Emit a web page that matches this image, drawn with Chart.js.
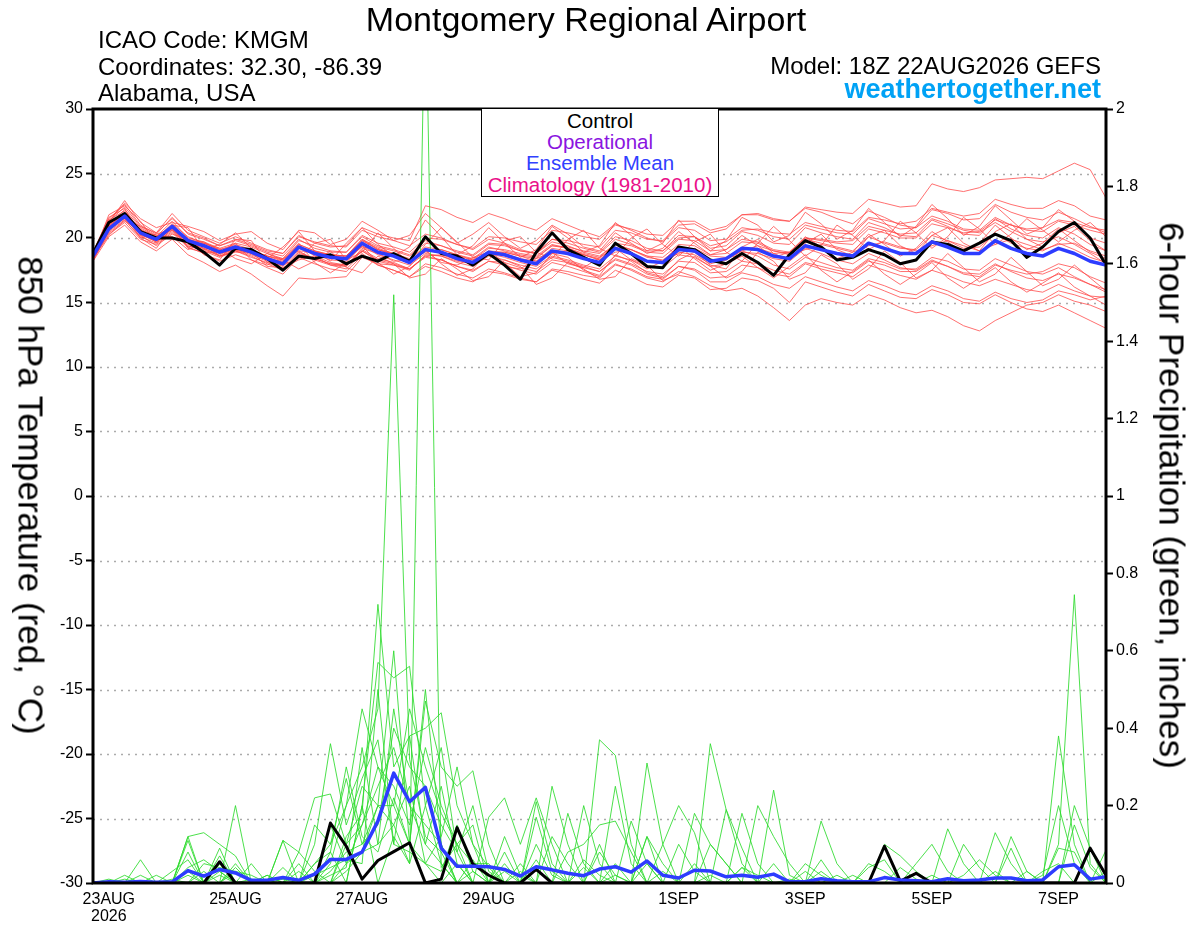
<!DOCTYPE html>
<html>
<head>
<meta charset="utf-8">
<title>Montgomery Regional Airport - GEFS</title>
<script src="https://cdn.jsdelivr.net/npm/chart.js@4.4.1/dist/chart.umd.min.js"></script>
<style>
  body { margin: 0; background: #fff; }
  #wrap { position: relative; width: 1200px; height: 927px; font-family: 'Liberation Sans', Arial, Helvetica, sans-serif; color: #000; }
  #wrap div { position: absolute; white-space: nowrap; line-height: 1; }
  .info { font-size: 24px; }
  .leg { font-size: 20.5px; left: 481px; width: 238px; text-align: center; }
  .vtitle { font-size: 35px; width: 800px; text-align: center; transform: rotate(90deg); }
</style>
</head>
<body>
<div id="wrap">
  <canvas id="chart" width="1200" height="927"></canvas>
  <div style="left:86px;width:1000px;top:2px;text-align:center;font-size:34px">Montgomery Regional Airport</div>
  <div class="info" style="left:98px;top:28px">ICAO Code: KMGM</div>
  <div class="info" style="left:98px;top:55px">Coordinates: 32.30, -86.39</div>
  <div class="info" style="left:98px;top:81px">Alabama, USA</div>
  <div class="info" style="right:99px;top:54px">Model: 18Z 22AUG2026 GEFS</div>
  <div style="right:99px;top:76px;font-size:27px;font-weight:bold;color:#00a2f5">weathertogether.net</div>
  <div style="left:481px;top:108px;width:236px;height:87px;border:1.5px solid #000;background:#fff"></div>
  <div class="leg" style="top:111px">Control</div>
  <div class="leg" style="top:132px;color:#8a14e0">Operational</div>
  <div class="leg" style="top:153px;color:#3040ff">Ensemble Mean</div>
  <div class="leg" style="top:175px;color:#ea1089">Climatology (1981-2010)</div>
  <div class="vtitle" style="left:-369px;top:478px">850 hPa Temperature (red, °C)</div>
  <div class="vtitle" style="left:772px;top:478px">6-hour Precipitation (green, inches)</div>
</div>
<script>
// forecast hours since 18Z 22AUG2026, 6-hourly
const hours = [0,6,12,18,24,30,36,42,48,54,60,66,72,78,84,90,96,102,108,114,120,126,132,138,144,150,156,162,168,174,180,186,192,198,204,210,216,222,228,234,240,246,252,258,264,270,276,282,288,294,300,306,312,318,324,330,336,342,348,354,360,366,372,378,384];

const dayTickHours = [6, 54, 102, 150, 222, 270, 318, 366];
const dayTickLabels = [['23AUG', '2026'], '25AUG', '27AUG', '29AUG', '1SEP', '3SEP', '5SEP', '7SEP'];

// 850 hPa temperature (C)
const tempControl = [18.8,21.2,21.9,20.5,20.0,20.0,19.7,18.9,17.9,19.2, 19.1,18.4,17.5,18.6,18.4,18.7,18.0,18.6,18.2,18.8, 18.2,20.1,18.8,18.6,17.9,18.8,17.9,16.8,18.9,20.4, 19.1,18.5,17.9,19.6,18.8,17.8,17.7,19.3,19.1,18.3, 18.0,18.8,18.1,17.1,18.7,19.8,19.3,18.3,18.5,19.1, 18.7,18.0,18.3,19.7,19.5,19.0,19.6,20.3,19.8,18.5, 19.3,20.5,21.2,20.0,17.9];
const tempMean = [18.6,20.7,21.7,20.4,19.9,20.9,19.8,19.4,18.9,19.3, 18.9,18.4,18.0,19.3,18.8,18.5,18.4,19.6,18.9,18.6, 18.1,19.1,18.9,18.4,18.1,18.9,18.7,18.3,18.0,19.0, 18.8,18.4,18.1,19.2,18.8,18.2,18.1,19.1,19.0,18.2, 18.4,19.2,19.1,18.6,18.4,19.4,19.1,18.8,18.6,19.6, 19.2,18.8,18.8,19.7,19.3,18.8,18.8,19.8,19.2,18.8, 18.6,19.2,18.8,18.2,17.9];
const tempMembers = [
  [18.5,21.0,22.2,20.8,20.1,21.3,20.0,19.7,19.2,19.6, 19.3,18.8,18.4,19.8,19.4,19.0,18.9,20.2,19.6,19.3, 18.9,20.0,19.9,19.5,19.2,20.1,20.0,19.7,19.5,20.6, 20.4,20.1,19.9,21.0,20.7,20.3,20.2,21.3,21.3,20.6, 20.9,21.8,21.8,21.4,21.3,22.4,22.2,22.0,21.9,23.0, 22.7,22.4,22.5,24.2,23.8,23.6,23.9,24.5,24.6,24.7, 24.6,25.2,25.8,25.3,23.1],
  [18.4,20.3,21.2,19.9,19.5,20.4,19.3,18.8,18.2,18.7, 18.3,17.7,17.2,18.5,18.0,17.6,17.4,18.6,17.9,17.5, 17.0,18.0,17.7,17.2,16.9,17.6,17.3,16.9,16.6,17.5, 17.2,16.8,16.5,17.5,17.0,16.4,16.2,17.1,16.9,16.0, 16.1,16.9,16.7,16.1,15.0,16.6,16.2,15.8,15.5,16.4, 15.9,15.4,15.3,16.0,15.6,15.0,14.9,15.6,15.0,14.5, 14.3,14.8,14.2,13.6,13.0],
  [18.7,20.9,21.9,20.6,19.8,20.7,19.6,19.2,18.6,19.0, 18.6,18.0,17.5,18.8,18.4,18.0,17.8,19.0,18.3,18.0, 17.6,18.6,18.3,17.8,17.4,18.2,17.9,17.5,17.2,18.1, 17.8,17.4,17.0,18.0,17.5,16.9,16.6,17.4,17.0,16.3, 15.9,16.1,15.5,14.6,13.6,14.8,15.3,15.0,14.8,15.6, 15.2,14.6,14.2,14.4,13.9,13.2,12.8,13.6,14.2,14.8, 15.0,15.6,15.1,14.8,14.3],
  [18.9,21.5,22.6,21.0,20.3,21.6,20.3,19.9,19.4,19.8, 19.4,18.9,18.6,19.9,19.2,18.9,18.9,20.1,19.4,19.1, 18.7,19.8,19.4,19.0,18.7,19.6,19.5,19.0,18.8,19.9, 19.6,19.2,18.9,20.1,19.8,19.2,19.0,20.2,20.1,19.2, 19.4,20.5,20.2,19.6,19.5,20.8,20.4,20.1,19.9,21.2, 20.8,20.2,20.1,21.4,20.9,20.3,20.2,21.5,20.7,20.2, 20.0,20.8,20.3,19.5,19.0],
  [18.3,20.5,21.4,20.1,19.6,20.5,19.4,19.0,18.5,19.0, 18.5,18.1,17.6,18.9,18.4,18.0,17.9,19.1,18.4,18.1, 17.6,18.5,18.3,17.8,17.5,18.2,18.1,17.7,17.4,18.3, 18.1,17.7,17.4,18.4,18.0,17.4,17.2,18.2,18.1,17.3, 17.4,18.2,18.0,17.5,17.2,18.1,17.8,17.5,17.3,18.2, 17.9,17.4,17.4,18.2,17.8,17.3,17.2,18.0,17.4,16.9, 16.7,17.2,16.9,16.4,16.0],
  [18.6,21.2,22.9,21.2,20.4,21.9,20.6,20.1,19.6,20.1, 19.6,19.1,18.8,20.2,19.6,19.3,19.4,20.8,20.3,20.0, 19.8,22.5,22.2,21.6,21.2,21.9,21.5,21.0,20.6,21.5, 21.0,20.5,20.1,21.1,20.6,20.0,19.7,20.8,20.6,19.8, 19.9,20.8,20.6,20.1,19.9,21.0,20.7,20.4,20.3,21.5, 21.1,20.7,20.8,22.2,21.9,21.4,21.5,22.6,22.0,21.6, 21.4,22.0,21.5,20.9,20.4],
  [18.2,20.1,21.0,19.7,19.0,19.9,18.7,18.1,17.4,17.9, 17.2,16.3,15.5,16.9,16.8,16.9,17.0,18.5,18.0,17.9, 17.5,18.7,18.6,18.2,18.0,18.9,18.8,18.4,18.2,19.2, 19.0,18.7,18.4,19.5,19.1,18.6,18.5,19.5,19.4,18.7, 18.8,19.7,19.6,19.0,18.8,19.9,19.6,19.3,19.0,20.1, 19.6,19.2,19.1,20.2,19.8,19.2,19.3,20.3,19.6,19.2, 19.0,19.6,19.1,18.5,18.1],
  [18.7,21.0,21.8,20.4,19.8,20.9,19.9,19.6,19.1,19.4, 19.0,18.6,18.3,19.5,19.0,18.7,18.6,19.8,19.2,18.8, 18.4,19.3,19.1,18.7,18.4,19.3,19.0,18.7,18.5,19.4, 19.3,19.0,18.8,19.9,19.5,19.0,19.0,20.0,20.1,19.4, 19.7,20.6,20.7,20.4,20.3,21.2,20.9,20.6,20.5,21.6, 21.4,21.1,21.3,22.3,22.0,21.7,21.9,23.0,22.6,22.3, 22.3,22.9,22.5,21.7,21.4],
  [18.5,20.8,21.6,20.2,19.9,20.8,19.7,19.3,18.8,19.1, 18.7,18.2,17.8,19.0,18.3,17.9,17.6,18.8,17.9,17.5, 17.0,17.8,17.4,16.9,16.6,17.4,17.2,16.8,16.6,17.6, 17.4,17.1,16.9,17.9,17.6,17.0,16.8,17.8,17.6,16.9, 17.0,17.9,17.7,17.2,17.0,18.0,17.6,17.3,17.0,17.9, 17.5,17.1,16.8,17.5,17.1,16.6,16.3,16.8,16.4,16.0, 15.8,16.4,15.9,15.5,15.4],
  [18.8,21.3,22.4,20.9,20.4,21.5,20.4,20.0,19.4,19.9, 19.5,19.0,18.8,20.1,19.7,19.4,19.3,20.6,20.1,19.8, 19.4,20.3,20.0,19.5,19.1,19.9,19.6,19.1,18.8,19.7, 19.4,18.9,18.6,19.5,19.1,18.5,18.3,19.2,19.1,18.3, 18.3,19.0,18.6,17.9,17.6,18.5,18.1,17.7,17.5,18.4, 18.1,17.6,17.6,18.5,18.2,17.6,17.5,18.4,17.9,17.4, 17.2,17.7,17.0,16.4,15.8],
  [18.6,20.4,21.3,20.6,20.2,20.6,19.8,19.7,19.0,19.0, 19.0,18.6,18.4,19.0,18.9,18.7,18.4,19.3,19.1,18.8, 18.3,18.9,19.1,18.7,18.3,18.7,18.9,18.6,18.2,18.8, 19.0,18.7,18.3,18.9,19.1,18.6,18.2,18.8,19.2,18.6, 18.5,19.0,19.4,19.0,18.7,19.1,19.5,19.2,18.9,19.4, 19.7,19.3,19.0,19.4,19.8,19.4,19.0,19.5,19.9,19.5, 19.1,19.5,19.6,19.0,18.6],
  [18.6,20.9,22.0,20.7,20.0,21.1,20.1,19.6,19.1,19.5, 19.1,18.6,18.2,19.5,19.0,18.7,18.6,19.9,19.3,19.0, 18.6,19.6,19.4,18.9,18.6,19.5,19.4,19.0,18.8,19.9, 19.8,19.5,19.3,20.6,20.4,19.9,19.8,21.0,21.1,20.4, 20.7,21.8,21.9,21.5,21.3,22.3,22.0,21.5,21.1,22.1, 21.6,21.0,20.8,21.7,21.3,20.7,20.6,21.6,21.0,20.6, 20.5,21.3,21.0,20.6,20.3],
  [18.4,20.6,21.5,20.3,19.7,20.8,19.6,19.2,18.7,19.2, 18.8,18.3,17.9,19.2,18.7,18.3,18.2,19.4,18.7,18.3, 17.9,18.8,18.6,18.1,17.8,18.6,18.3,17.9,17.6,18.5, 18.2,17.8,17.4,18.3,17.9,17.2,16.9,17.8,17.5,16.6, 16.6,17.3,17.0,16.4,16.1,17.0,16.6,16.2,15.9,16.7, 16.3,15.8,15.6,16.3,15.9,15.3,15.1,15.8,15.3,15.0, 15.2,15.9,15.6,15.2,15.5],
  [18.7,21.1,21.9,20.3,19.7,20.6,19.5,19.1,18.6,19.1, 18.9,18.5,18.1,19.4,18.6,18.1,17.9,19.0,18.2,17.9, 17.6,18.6,18.7,18.3,18.1,19.0,18.9,18.6,18.4,19.4, 19.2,18.8,18.5,19.6,19.4,18.9,18.8,19.9,19.8,19.0, 19.1,19.9,19.7,19.1,18.9,20.0,19.8,19.6,19.5,20.7, 20.4,20.0,20.0,21.1,20.8,20.4,20.5,21.4,21.0,20.7, 20.8,21.4,21.2,20.8,20.6],
  [18.5,20.7,21.6,20.4,20.0,20.8,19.9,19.5,18.9,19.3, 18.8,18.3,18.0,19.3,18.9,18.6,18.5,19.8,19.1,18.7, 18.2,19.1,18.8,18.3,18.0,18.8,18.5,18.1,17.8,18.6, 18.3,17.9,17.6,18.6,18.3,17.8,17.7,18.7,18.5,17.8, 18.0,18.9,18.8,18.4,18.2,19.2,18.8,18.3,18.0,18.8, 18.3,17.7,17.5,18.3,17.8,17.2,17.0,17.9,17.5,17.2, 17.4,18.0,17.7,17.0,16.5],
  [18.8,21.4,22.1,20.6,19.9,21.0,19.9,19.4,18.8,19.3, 18.9,18.4,18.1,19.3,18.9,18.7,18.6,19.9,19.1,18.7, 18.2,19.2,18.9,18.6,18.3,19.2,19.1,18.8,18.6,19.5, 19.2,18.7,18.3,19.3,18.9,18.2,18.0,18.9,18.7,18.0, 18.3,19.2,19.2,18.8,18.9,20.0,19.9,19.7,19.8,20.9, 20.6,20.3,20.4,21.5,21.1,20.6,20.4,21.2,20.5,19.9, 19.7,20.1,19.5,18.8,18.0],
  [18.9,21.6,22.3,20.2,19.4,20.3,19.9,18.7,18.3,19.9, 19.8,18.1,17.9,18.4,19.6,19.9,18.3,18.9,20.4,19.2, 18.0,19.5,20.8,19.7,18.5,18.3,19.8,20.1,18.9,18.4, 19.9,20.6,19.2,18.6,20.0,20.7,19.5,18.6,19.7,20.3, 18.9,18.2,19.6,20.9,19.8,18.6,19.4,21.0,20.2,19.1, 19.8,21.3,20.4,19.2,20.1,21.6,20.7,19.5,20.3,21.5, 20.6,19.7,20.6,21.2,20.1],
  [18.3,20.9,21.5,20.9,20.2,20.1,19.1,19.6,19.2,18.4, 18.0,18.8,18.3,17.6,18.2,19.0,17.7,17.3,18.6,18.0, 16.9,17.2,18.4,17.6,16.7,17.0,18.3,17.8,16.4,16.9, 18.1,17.6,16.8,17.0,18.4,17.9,16.7,17.2,18.6,17.8, 16.9,17.4,18.9,18.2,16.8,17.3,18.7,18.0,16.8,17.6, 19.0,18.1,16.9,17.5,18.8,17.7,16.6,17.2,18.5,17.4, 16.3,16.8,17.9,16.9,15.9],
  [18.6,21.8,22.5,21.3,19.6,21.0,20.8,19.1,19.5,20.4, 19.2,18.4,19.3,20.5,19.0,18.2,19.6,20.8,19.5,18.6, 19.3,21.4,20.1,18.7,19.4,20.8,19.6,18.5,19.1,20.9, 20.0,18.9,19.4,21.2,20.2,19.0,19.6,21.4,20.1,19.0, 19.8,21.6,21.0,19.7,20.2,22.0,21.1,19.9,20.6,22.3, 21.2,20.1,20.9,22.6,21.5,20.2,20.9,22.5,21.4,20.3, 20.8,22.2,21.3,20.0,19.6],
  [18.4,20.2,21.4,20.0,20.3,20.7,19.3,19.5,18.6,18.9, 18.9,17.8,17.7,18.3,18.6,17.9,17.8,19.2,18.8,18.2, 18.3,19.0,18.1,17.9,18.5,18.9,17.8,17.6,18.4,18.9, 18.0,17.7,18.5,19.2,18.3,17.6,18.2,19.4,18.4,17.5, 18.0,18.6,17.7,16.9,17.8,18.7,17.5,16.6,17.4,18.3, 17.2,16.4,17.2,18.1,16.9,16.1,16.9,17.7,16.6,15.8, 16.5,17.3,16.2,15.5,14.8],
  [18.9,21.3,22.7,21.5,20.8,21.2,20.9,20.5,19.8,20.3, 20.5,19.6,19.1,20.6,20.4,19.5,19.9,21.3,20.6,19.8, 20.2,21.9,20.8,19.6,20.3,21.2,20.1,19.2,19.8,21.0, 20.3,19.3,19.0,20.4,19.6,18.8,19.2,20.5,19.6,18.7, 19.1,20.2,19.4,18.5,18.9,20.1,19.3,18.4,18.9,20.3, 19.5,18.6,19.2,20.5,19.7,18.9,19.6,21.0,20.0,19.1, 19.6,20.7,19.8,18.9,18.4],
  [18.2,20.6,21.8,20.0,19.2,20.9,19.2,18.9,18.9,19.6, 18.3,17.9,18.4,19.6,18.1,17.3,18.1,19.4,18.1,17.2, 17.8,19.1,18.0,17.1,17.6,19.0,18.1,17.0,17.3,18.8, 18.5,17.5,17.1,18.7,18.2,17.3,17.0,18.3,18.9,17.9, 17.6,19.3,19.9,18.8,18.3,19.6,20.3,19.1,18.6,20.1, 20.6,19.4,18.8,20.2,20.8,19.6,19.0,20.5,21.1,19.9, 19.3,20.4,20.9,19.8,19.0]
];

// 6-hour precipitation (inches)
const precipControl = [0,0,0,0,0, 0,0,0,0.055,0, 0,0,0,0,0, 0.155,0.095,0.01,0.058,0.081, 0.104,0,0.01,0.143,0.049, 0.02,0,0,0.035,0, 0,0,0,0,0, 0,0,0,0,0, 0,0,0,0,0, 0,0,0,0,0, 0.095,0.005,0.025,0,0, 0,0,0,0,0, 0,0,0,0.09,0.02];
const precipMean = [0,0.003,0.002,0.004,0.002, 0.003,0.032,0.018,0.035,0.026, 0.007,0.007,0.014,0.007,0.023, 0.061,0.061,0.08,0.16,0.284, 0.21,0.247,0.09,0.043,0.043, 0.042,0.035,0.018,0.042,0.034, 0.025,0.019,0.036,0.042,0.028, 0.057,0.02,0.013,0.033,0.031, 0.016,0.02,0.015,0.023,0.003, 0.003,0.011,0.006,0.003,0.003, 0.014,0.008,0.006,0.003,0.011, 0.006,0.008,0.013,0.013,0.006, 0.008,0.042,0.047,0.01,0.016];
const precipMembers = [
  [0,0,0,0,0, 0,0,0,0.03,0, 0,0,0,0,0, 0.08,0,0.2,0,0.12, 0.05,2.37,0.04,0.1,0, 0,0.05,0,0,0, 0,0,0,0.05,0, 0,0,0,0,0.02, 0,0,0,0,0, 0,0,0,0,0, 0,0,0,0,0, 0,0,0,0,0, 0,0,0,0,0],
  [0,0,0,0,0, 0,0,0,0,0, 0,0,0,0,0.05, 0.1,0.2,0.3,0.45,1.52, 0.32,0.12,0.08,0,0.03, 0,0,0,0.06,0, 0,0,0.1,0,0, 0,0,0,0,0, 0,0.04,0,0,0, 0,0,0,0,0, 0,0,0,0,0, 0,0,0,0,0, 0,0,0,0,0],
  [0,0,0,0,0, 0,0.12,0,0,0.04, 0,0,0,0,0, 0,0.12,0.18,0.72,0.3, 0.38,0.1,0.05,0,0, 0,0,0,0,0.25, 0.1,0,0,0,0, 0.12,0,0,0,0, 0,0,0,0,0, 0,0,0,0,0, 0,0,0,0,0, 0,0,0.03,0,0, 0,0.38,0.1,0,0],
  [0,0,0,0,0, 0,0,0,0,0.2, 0,0,0,0,0, 0,0,0.2,0.57,0.53, 0.56,0.2,0.05,0,0, 0,0,0,0,0, 0,0,0,0,0, 0,0,0,0,0, 0,0,0,0,0, 0,0,0,0,0, 0,0,0,0,0, 0,0,0,0,0, 0,0.1,0.745,0.05,0],
  [0,0,0,0,0, 0,0,0,0,0, 0,0,0.11,0,0, 0.05,0.2,0.45,0.3,0.2, 0.1,0.47,0.3,0.25,0.29, 0.1,0,0,0,0, 0,0,0.37,0.33,0.1, 0,0,0,0,0, 0,0,0,0,0, 0,0,0,0,0, 0,0,0,0,0, 0,0,0,0,0, 0,0,0,0,0],
  [0,0,0,0,0, 0,0.11,0,0,0, 0,0,0,0,0.1, 0.36,0.15,0.27,0.37,0.1, 0.38,0.4,0.44,0.2,0.1, 0,0,0,0,0, 0,0,0,0,0, 0,0,0,0,0.36, 0.19,0.05,0,0,0, 0,0,0,0,0, 0,0,0,0,0, 0,0,0,0,0, 0,0,0,0,0],
  [0,0,0,0,0, 0,0,0,0,0, 0,0,0,0.08,0.22, 0.23,0.1,0.15,0.25,0.35, 0.2,0.15,0.1,0,0, 0.17,0.22,0.1,0.22,0.1, 0,0,0,0,0, 0.31,0.1,0,0,0, 0,0,0,0,0, 0,0.16,0.05,0,0, 0,0,0,0,0, 0,0,0,0,0, 0,0,0,0,0],
  [0,0,0,0,0, 0,0.12,0.13,0.1,0.07, 0,0,0,0,0.15, 0.1,0.27,0.1,0.2,0.15, 0.25,0.05,0,0.05,0, 0,0,0,0.21,0.05, 0,0.2,0.05,0,0, 0,0,0,0,0, 0,0,0,0.24,0.02, 0,0,0,0,0, 0,0,0,0,0, 0,0,0,0.09,0, 0,0,0,0,0],
  [0,0,0,0.06,0, 0,0.08,0,0.09,0, 0,0,0.04,0,0, 0,0.05,0.15,0.3,0.25, 0.15,0.35,0.2,0.1,0.15, 0,0,0.05,0,0, 0.18,0.05,0,0.25,0.05, 0,0,0,0.18,0.1, 0.05,0,0,0,0, 0,0,0,0,0, 0,0,0,0,0.14, 0.05,0,0,0,0, 0,0,0.2,0.09,0],
  [0,0,0.02,0,0, 0.03,0.06,0,0.07,0, 0,0.02,0,0.05,0, 0.03,0.08,0.1,0.15,0.4, 0.3,0.25,0.15,0.08,0, 0,0.03,0,0.17,0.03, 0,0,0,0,0.16, 0.05,0,0,0,0, 0,0,0.2,0.12,0.05, 0,0,0,0,0, 0.1,0.07,0.03,0,0, 0,0,0.13,0.05,0, 0,0.09,0.08,0,0.085],
  [0,0,0,0,0, 0,0,0.05,0.04,0.03, 0,0,0.11,0.08,0.03, 0,0.1,0.25,0.2,0.2, 0.45,0.3,0.18,0.1,0.05, 0.05,0,0,0,0, 0.08,0.1,0.15,0.16,0.08, 0,0.1,0.2,0.13,0, 0,0.18,0.05,0,0, 0,0.06,0,0,0.04, 0.06,0,0,0.02,0, 0,0,0,0,0, 0.03,0.05,0,0,0],
  [0,0,0,0,0.02, 0,0.03,0,0.05,0, 0.05,0,0,0.03,0, 0.15,0.05,0.08,0.1,0.45, 0.2,0.1,0.25,0.05,0, 0,0,0.03,0,0.12, 0.05,0,0,0,0, 0.12,0.05,0,0,0.1, 0.05,0,0,0.05,0, 0.03,0,0,0.02,0, 0,0,0,0,0, 0.1,0.04,0,0,0.03, 0,0,0.15,0.04,0],
  [0,0,0,0,0, 0,0,0,0,0.03, 0.02,0,0,0,0.05, 0.08,0.3,0.12,0.08,0.22, 0.1,0.5,0.1,0,0.06, 0,0.08,0,0,0, 0,0.04,0,0,0, 0,0,0,0.05,0, 0.19,0.09,0,0,0, 0,0,0.02,0,0, 0,0,0.05,0.1,0.03, 0,0,0,0,0, 0,0,0,0,0],
  [0,0.01,0,0.02,0, 0.01,0,0.03,0,0.05, 0,0.02,0,0,0.02, 0.04,0.06,0.05,0.5,0.1, 0.08,0.05,0.12,0.3,0.1, 0.04,0,0,0,0, 0,0,0,0.02,0, 0,0.03,0,0,0, 0,0,0,0,0.01, 0,0.03,0,0,0.05, 0.03,0,0,0,0, 0,0,0,0.12,0.03, 0,0,0,0,0],
  [0,0,0,0,0, 0,0.04,0.06,0.03,0, 0,0,0.01,0,0, 0.02,0.04,0.35,0.1,0.15, 0.05,0.2,0.35,0.08,0.2, 0.03,0,0,0.1,0.02, 0,0,0.08,0.02,0, 0,0,0.1,0.03,0, 0,0,0,0,0, 0.05,0.02,0,0,0, 0,0,0,0,0, 0.02,0.06,0.02,0,0, 0.02,0.2,0.05,0,0],
  [0,0,0.01,0,0, 0,0.02,0,0.02,0, 0.01,0,0,0,0, 0,0.03,0.08,0.2,0.6, 0.1,0.05,0.03,0.15,0.03, 0,0.12,0.02,0,0, 0,0.06,0.02,0,0, 0.05,0,0,0,0, 0,0.04,0.02,0,0, 0,0,0,0,0, 0,0.04,0.01,0,0, 0,0,0,0,0, 0,0,0,0,0.03]
];

const FONT = "'Liberation Sans', Arial, Helvetica, sans-serif";
Chart.defaults.font.family = FONT;
Chart.defaults.font.size = 16;
Chart.defaults.color = '#000';

const memberRed = 'rgba(255,72,72,0.78)';
const memberGreen = 'rgba(45,218,45,0.85)';
const controlBlack = '#000';
const meanBlue = '#2d3cff';

function line(data, axis, color, width, order) {
    return {
        data: data,
        yAxisID: axis,
        borderColor: color,
        borderWidth: width,
        borderJoinStyle: width > 2 ? 'round' : 'miter',
        pointRadius: 0,
        tension: 0,
        fill: false,
        order: order
    };
}

// dotted grid lines and the heavy frame
const framePlugin = {
    id: 'frame',
    beforeDatasetsDraw(chart) {
        const ctx = chart.ctx;
        const area = chart.chartArea;
        const yT = chart.scales.yT;
        ctx.save();
        ctx.strokeStyle = '#ababab';
        ctx.lineWidth = 1.3;
        ctx.setLineDash([2, 5]);
        yT.ticks.forEach(t => {
            if (t.value <= yT.min || t.value >= yT.max) return;
            const y = Math.round(yT.getPixelForValue(t.value)) + 0.5;
            ctx.beginPath();
            ctx.moveTo(area.left, y);
            ctx.lineTo(area.right, y);
            ctx.stroke();
        });
        ctx.restore();
    },
    afterDatasetsDraw(chart) {
        const ctx = chart.ctx;
        const a = chart.chartArea;
        ctx.save();
        ctx.strokeStyle = '#000';
        ctx.lineWidth = 3;
        ctx.strokeRect(a.left, a.top, a.right - a.left, a.bottom - a.top);
        ctx.restore();
    }
};

const datasets = [];
tempMembers.forEach(m => datasets.push(line(m, 'yT', memberRed, 1, 4)));
precipMembers.forEach(m => datasets.push(line(m, 'yP', memberGreen, 1, 3)));
datasets.push(line(tempControl, 'yT', controlBlack, 3, 2));
datasets.push(line(precipControl, 'yP', controlBlack, 3, 2));
datasets.push(line(tempMean, 'yT', meanBlue, 3.5, 1));
datasets.push(line(precipMean, 'yP', meanBlue, 3.5, 1));

const yTicks = {
    drawOnChartArea: false,
    drawTicks: true,
    tickLength: 7,
    tickWidth: 2,
    tickColor: '#000'
};

new Chart(document.getElementById('chart'), {
    type: 'line',
    data: { labels: hours, datasets: datasets },
    options: {
        responsive: false,
        animation: false,
        events: [],
        layout: { padding: { top: 109, left: 0, right: 0, bottom: 0 } },
        plugins: { legend: { display: false }, tooltip: { enabled: false }, title: { display: false } },
        scales: {
            x: {
                type: 'linear',
                min: 0,
                max: 384,
                border: { display: false },
                grid: { drawOnChartArea: false, drawTicks: false },
                afterBuildTicks: s => { s.ticks = dayTickHours.map(v => ({ value: v })); },
                afterFit: s => { s.height = 44; },
                ticks: {
                    autoSkip: false,
                    maxRotation: 0,
                    padding: 8,
                    font: { size: 16, lineHeight: 1.05 },
                    callback: v => dayTickLabels[dayTickHours.indexOf(v)]
                }
            },
            yT: {
                position: 'left',
                min: -30,
                max: 30,
                border: { display: false },
                grid: yTicks,
                afterFit: s => { s.width = 93; },
                ticks: { stepSize: 5, padding: 3, font: { size: 16 } }
            },
            yP: {
                position: 'right',
                min: 0,
                max: 2,
                border: { display: false },
                grid: yTicks,
                afterFit: s => { s.width = 94; },
                ticks: {
                    stepSize: 0.2,
                    padding: 3,
                    font: { size: 16 },
                    callback: v => String(Number(v.toFixed(1)))
                }
            }
        }
    },
    plugins: [framePlugin]
});
</script>
</body>
</html>
